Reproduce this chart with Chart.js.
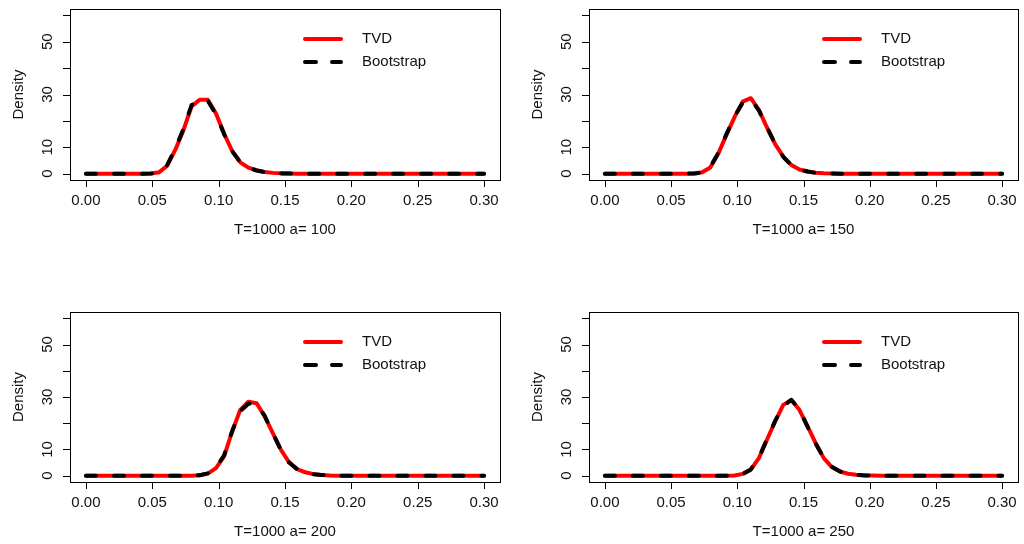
<!DOCTYPE html>
<html>
<head>
<meta charset="utf-8">
<script src="https://cdn.jsdelivr.net/npm/chart.js@4"></script>
<style>
  body { margin: 0; background: #fff; }
  #wrap { position: relative; width: 1024px; height: 544px; overflow: hidden; }
  canvas { position: absolute; }
</style>
</head>
<body>
<div id="wrap">
  <canvas id="p100" width="512" height="272" style="left:0;top:0"></canvas>
  <canvas id="p150" width="512" height="272" style="left:512px;top:0"></canvas>
  <canvas id="p200" width="512" height="272" style="left:0;top:272px"></canvas>
  <canvas id="p250" width="512" height="272" style="left:512px;top:272px"></canvas>
</div>
<script>
// grid of the density estimates (50 points between 0 and 0.3)
const xGrid = [
  0.0000, 0.0061, 0.0122, 0.0184, 0.0245, 0.0306, 0.0367, 0.0429, 0.0490, 0.0551,
  0.0612, 0.0673, 0.0735, 0.0796, 0.0857, 0.0918, 0.0980, 0.1041, 0.1102, 0.1163,
  0.1224, 0.1286, 0.1347, 0.1408, 0.1469, 0.1531, 0.1592, 0.1653, 0.1714, 0.1776,
  0.1837, 0.1898, 0.1959, 0.2020, 0.2082, 0.2143, 0.2204, 0.2265, 0.2327, 0.2388,
  0.2449, 0.2510, 0.2571, 0.2633, 0.2694, 0.2755, 0.2816, 0.2878, 0.2939, 0.3000
];

const tvdA100 = [
  0, 0, 0, 0, 0, 0, 0, 0, 0.05, 0.5,
  3.0, 9.0, 16.5, 25.5, 28.0, 28.0, 22.8, 15.2, 8.6, 4.3,
  2.3, 1.3, 0.6, 0.3, 0.15, 0.05, 0, 0, 0, 0,
  0, 0, 0, 0, 0, 0, 0, 0, 0, 0,
  0, 0, 0, 0, 0, 0, 0, 0, 0, 0
];
const bootA100 = [
  0, 0, 0, 0, 0, 0, 0, 0, 0.05, 0.4,
  3.2, 9.5, 17.0, 26.0, 27.9, 27.7, 22.5, 15.0, 8.5, 4.4,
  2.2, 1.2, 0.6, 0.25, 0.1, 0.05, 0, 0, 0, 0,
  0, 0, 0, 0, 0, 0, 0, 0, 0, 0,
  0, 0, 0, 0, 0, 0, 0, 0, 0, 0
];

const tvdA150 = [
  0, 0, 0, 0, 0, 0, 0, 0, 0, 0,
  0, 0.1, 0.5, 2.3, 7.7, 14.7, 21.5, 27.3, 28.6, 24.2,
  17.5, 11.2, 6.5, 3.3, 1.6, 0.8, 0.35, 0.15, 0.05, 0,
  0, 0, 0, 0, 0, 0, 0, 0, 0, 0,
  0, 0, 0, 0, 0, 0, 0, 0, 0, 0
];
const bootA150 = [
  0, 0, 0, 0, 0, 0, 0, 0, 0, 0,
  0, 0.1, 0.4, 2.5, 7.9, 15.0, 21.8, 26.9, 28.1, 24.0,
  17.6, 11.3, 6.4, 3.2, 1.6, 0.8, 0.3, 0.1, 0.05, 0,
  0, 0, 0, 0, 0, 0, 0, 0, 0, 0,
  0, 0, 0, 0, 0, 0, 0, 0, 0, 0
];

const tvdA200 = [
  0, 0, 0, 0, 0, 0, 0, 0, 0, 0,
  0, 0, 0, 0, 0.2, 0.8, 2.9, 7.4, 16.9, 25.1,
  28.2, 27.6, 22.6, 16.2, 9.9, 5.1, 2.5, 1.3, 0.6, 0.3,
  0.1, 0, 0, 0, 0, 0, 0, 0, 0, 0,
  0, 0, 0, 0, 0, 0, 0, 0, 0, 0
];
const bootA200 = [
  0, 0, 0, 0, 0, 0, 0, 0, 0, 0,
  0, 0, 0, 0, 0.2, 0.9, 3.1, 7.8, 17.0, 24.6,
  27.4, 27.4, 22.8, 16.3, 9.8, 5.0, 2.4, 1.2, 0.6, 0.3,
  0.1, 0, 0, 0, 0, 0, 0, 0, 0, 0,
  0, 0, 0, 0, 0, 0, 0, 0, 0, 0
];

const tvdA250 = [
  0, 0, 0, 0, 0, 0, 0, 0, 0, 0,
  0, 0, 0, 0, 0, 0, 0.1, 0.7, 2.3, 6.7,
  13.7, 20.7, 27.0, 28.9, 25.1, 18.8, 12.4, 6.7, 3.3, 1.6,
  0.75, 0.4, 0.15, 0.05, 0, 0, 0, 0, 0, 0,
  0, 0, 0, 0, 0, 0, 0, 0, 0, 0
];
const bootA250 = [
  0, 0, 0, 0, 0, 0, 0, 0, 0, 0,
  0, 0, 0, 0, 0, 0, 0.1, 0.6, 2.4, 6.9,
  13.9, 20.9, 26.6, 28.9, 25.3, 18.6, 12.2, 6.8, 3.4, 1.6,
  0.7, 0.3, 0.1, 0.05, 0, 0, 0, 0, 0, 0,
  0, 0, 0, 0, 0, 0, 0, 0, 0, 0
];

const seriesNames = ['TVD', 'Bootstrap'];
const panelTitles = ['T=1000 a= 100', 'T=1000 a= 150', 'T=1000 a= 200', 'T=1000 a= 250'];
const xTicks = [0, 0.05, 0.10, 0.15, 0.20, 0.25, 0.30];
const xTickLabels = ['0.00', '0.05', '0.10', '0.15', '0.20', '0.25', '0.30'];
const yTicks = [0, 10, 20, 30, 40, 50, 60];
const yTickLabels = ['0', '10', '', '30', '', '50', ''];
const yTitle = 'Density';

const FONT = '15px "Liberation Sans", Arial, Helvetica, sans-serif';

// base-graphics look: box, outside ticks, rotated y labels, legend
const rAxes = {
    id: 'rAxes',
    afterDraw(chart, args, opts) {
        const ctx = chart.ctx;
        const a = chart.chartArea;
        const x = chart.scales.x;
        const y = chart.scales.y;
        ctx.save();

        ctx.strokeStyle = '#000';
        ctx.lineWidth = 1;
        ctx.strokeRect(Math.round(a.left) + 0.5, Math.round(a.top) + 0.5,
            Math.round(a.right - a.left), Math.round(a.bottom - a.top));

        ctx.beginPath();
        xTicks.forEach(v => {
            const px = Math.round(x.getPixelForValue(v)) + 0.5;
            ctx.moveTo(px, a.bottom);
            ctx.lineTo(px, a.bottom + 7);
        });
        yTicks.forEach(v => {
            const py = Math.round(y.getPixelForValue(v)) + 0.5;
            ctx.moveTo(a.left, py);
            ctx.lineTo(a.left - 7, py);
        });
        ctx.stroke();

        ctx.fillStyle = '#111';
        ctx.font = FONT;
        ctx.textAlign = 'center';
        ctx.textBaseline = 'middle';
        xTicks.forEach((v, i) => {
            ctx.fillText(xTickLabels[i], x.getPixelForValue(v), a.bottom + 21);
        });
        ctx.fillText(opts.title, (a.left + a.right) / 2, a.bottom + 50);

        yTicks.forEach((v, i) => {
            if (!yTickLabels[i]) return;
            ctx.save();
            ctx.translate(a.left - 22, y.getPixelForValue(v));
            ctx.rotate(-Math.PI / 2);
            ctx.fillText(yTickLabels[i], 0, 0);
            ctx.restore();
        });
        ctx.save();
        ctx.translate(a.left - 51, (a.top + a.bottom) / 2);
        ctx.rotate(-Math.PI / 2);
        ctx.fillText(yTitle, 0, 0);
        ctx.restore();

        // legend, first entry on top like R's legend()
        const legendItems = [chart.data.datasets[0], chart.data.datasets[1]];
        legendItems.forEach((ds, k) => {
            const ly = a.top + 30 + k * 23;
            ctx.save();
            ctx.strokeStyle = ds.borderColor;
            ctx.lineWidth = ds.borderWidth;
            ctx.lineCap = 'round';
            ctx.setLineDash(ds.borderDash ? [11, 16] : []);
            ctx.beginPath();
            ctx.moveTo(a.left + 235, ly);
            ctx.lineTo(a.left + 271, ly);
            ctx.stroke();
            ctx.restore();
            ctx.textAlign = 'left';
            ctx.fillText(ds.label, a.left + 292, ly);
        });

        ctx.restore();
    },
};

function makePanel(id, tvd, boot, title, pad) {
    const canvas = document.getElementById(id);
    return new Chart(canvas, {
        type: 'line',
        data: {
            datasets: [
                {
                    label: seriesNames[0],
                    data: xGrid.map((v, i) => ({ x: v, y: tvd[i] })),
                    borderColor: '#ff0000',
                    borderWidth: 4,
                    borderCapStyle: 'round',
                    borderJoinStyle: 'round',
                    order: 2,
                },
                {
                    label: seriesNames[1],
                    data: xGrid.map((v, i) => ({ x: v, y: boot[i] })),
                    borderColor: '#000000',
                    borderWidth: 4,
                    borderDash: [10, 18],
                    borderCapStyle: 'round',
                    borderJoinStyle: 'round',
                    order: 1,
                },
            ],
        },
        options: {
            responsive: false,
            animation: false,
            devicePixelRatio: 1,
            layout: { padding: pad },
            elements: {
                point: { radius: 0 },
                line: { tension: 0 },
            },
            plugins: {
                legend: { display: false },
                tooltip: { enabled: false },
                rAxes: { title: title },
            },
            scales: {
                x: { type: 'linear', min: -0.012, max: 0.312, display: false },
                y: { type: 'linear', min: -2.4, max: 62.4, display: false },
            },
        },
        plugins: [rAxes],
    });
}

makePanel('p100', tvdA100, bootA100, panelTitles[0], { left: 70, right: 12, top: 9, bottom: 92 });
makePanel('p150', tvdA150, bootA150, panelTitles[1], { left: 77, right: 6, top: 9, bottom: 92 });
makePanel('p200', tvdA200, bootA200, panelTitles[2], { left: 70, right: 12, top: 40, bottom: 62 });
makePanel('p250', tvdA250, bootA250, panelTitles[3], { left: 77, right: 6, top: 40, bottom: 62 });
</script>
</body>
</html>
